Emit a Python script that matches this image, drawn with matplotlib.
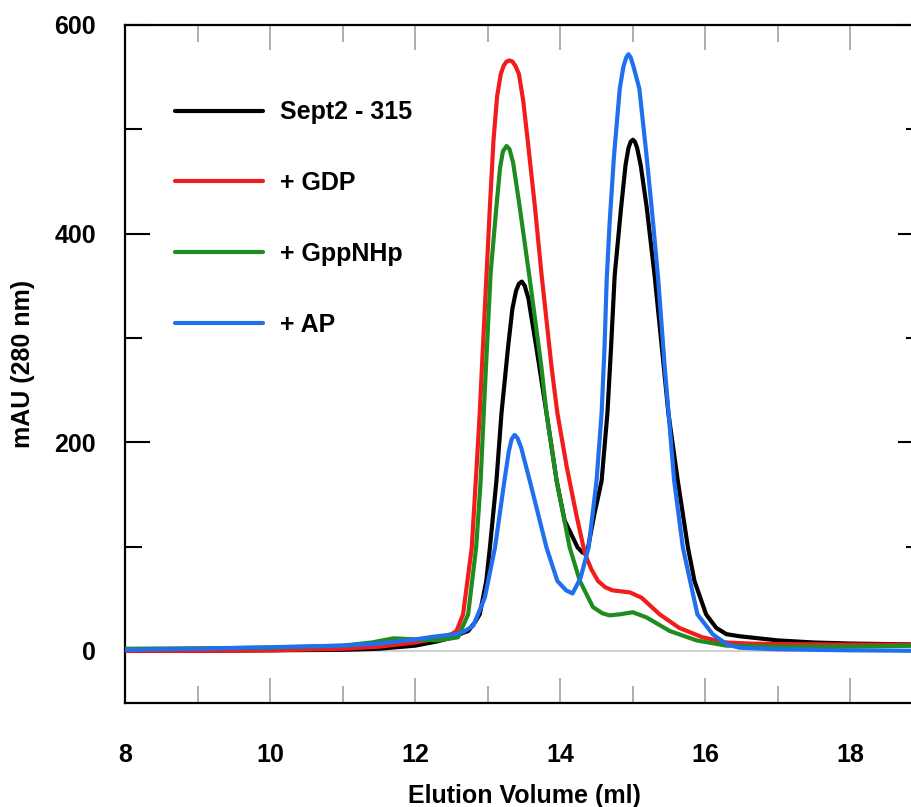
import matplotlib
matplotlib.use("Agg")
import matplotlib.pyplot as plt
from matplotlib.ticker import MultipleLocator

plt.rcParams['font.family'] = ['Liberation Sans', 'DejaVu Sans']
plt.rcParams['font.weight'] = 'bold'

# Elution traces (ml, mAU)
sept2_x = [8.0, 9.0, 10.0, 11.0, 11.5, 12.0, 12.3, 12.52, 12.65, 12.73, 12.82, 12.89, 12.98,
           13.03, 13.12, 13.19, 13.28, 13.34, 13.39, 13.43, 13.47, 13.51, 13.56, 13.67, 13.81,
           13.95, 14.06, 14.15, 14.24, 14.31, 14.38, 14.47, 14.57, 14.65, 14.70, 14.75, 14.84,
           14.90, 14.94, 14.97, 15.0, 15.03, 15.06, 15.11, 15.19, 15.30, 15.40, 15.49, 15.62,
           15.76, 15.85, 16.01, 16.15, 16.29, 16.47, 17.0, 17.5, 18.0, 19.0]
sept2_y = [0, 0, 0.5, 1, 2, 5, 9, 13, 17, 19, 27, 35, 67,
           99, 163, 228, 291, 328, 345, 352, 354, 350, 338, 291, 228,
           163, 125, 112, 99, 94, 98, 131, 163, 228, 291, 360, 426,
           466, 482, 488, 490, 488, 482, 465, 426, 360, 291, 228, 163,
           99, 67, 35, 22, 16, 14, 10, 8, 7, 6]

gdp_x = [8.0, 9.0, 10.0, 11.0, 11.5, 12.0, 12.3, 12.5, 12.57, 12.66, 12.78, 12.85, 12.89,
         12.92, 12.98, 13.03, 13.08, 13.13, 13.18, 13.22, 13.26, 13.30, 13.34, 13.38, 13.43,
         13.49, 13.55, 13.65, 13.74, 13.88, 13.96, 14.09, 14.22, 14.34, 14.43, 14.52, 14.62,
         14.72, 14.84, 14.96, 15.12, 15.37, 15.64, 15.96, 16.29, 16.6, 17.0, 18.0, 19.0]
gdp_y = [0, 0, 0.5, 2, 4, 8, 12, 16, 19, 35, 99, 180, 228,
         272, 356, 426, 490, 532, 553, 561, 565, 566, 565, 561, 553,
         527, 490, 426, 362, 272, 228, 176, 131, 93, 78, 67, 61,
         58, 57, 56, 51, 35, 22, 13, 8, 7, 6.5, 6, 6]

gppnhp_x = [8.0, 9.0, 10.0, 11.0, 11.4, 11.7, 12.0, 12.3, 12.5, 12.59, 12.73, 12.84, 12.90,
            12.96, 13.04, 13.12, 13.17, 13.21, 13.26, 13.30, 13.35, 13.44, 13.58, 13.74, 13.81,
            13.95, 14.13, 14.27, 14.45, 14.58, 14.68, 14.82, 15.0, 15.19, 15.51, 15.88, 16.29,
            17.0, 18.0, 19.0]
gppnhp_y = [2, 2.5, 3, 5, 8, 12, 11, 10, 12, 13, 35, 99, 160,
            250, 362, 426, 463, 479, 484, 481, 468, 426, 356, 272, 228,
            163, 99, 67, 42, 36, 34, 35, 37, 32, 19, 10, 5,
            4, 4, 5]

ap_x = [8.0, 9.0, 10.0, 11.0, 11.5, 12.0, 12.3, 12.57, 12.66, 12.80, 12.96, 13.10, 13.23,
        13.29, 13.33, 13.37, 13.41, 13.46, 13.58, 13.81, 13.96, 14.08, 14.17, 14.28, 14.39,
        14.50, 14.57, 14.61, 14.64, 14.68, 14.74, 14.82, 14.87, 14.91, 14.94, 14.97, 15.01,
        15.09, 15.19, 15.28, 15.35, 15.44, 15.57, 15.69, 15.89, 16.1, 16.3, 16.47, 17.0,
        18.0, 19.0]
ap_y = [1, 2, 3.5, 5, 7, 11, 14, 16, 18, 24, 51, 99, 163,
        191, 203, 207, 204, 195, 163, 99, 67, 58, 55, 70, 99,
        163, 228, 291, 356, 410, 474, 539, 560, 569, 572, 569, 560,
        539, 474, 410, 356, 272, 163, 99, 35, 16, 6, 3, 1.5,
        0.5, 0]

labels = ['Sept2 - 315', '+ GDP', '+ GppNHp', '+ AP']
colors = ['#000000', '#f21c1c', '#1e8c1e', '#1f6fef']

fig = plt.figure(figsize=(9.11, 8.07), dpi=100)
# axes run a little past the right edge of the figure, as in the original crop
ax = fig.add_axes([125 / 911, 104 / 807, 798 / 911, 678 / 807])

ax.axhline(0, color='#c8c8c8', lw=1.2, zorder=1)

series = [(sept2_x, sept2_y), (gdp_x, gdp_y), (gppnhp_x, gppnhp_y), (ap_x, ap_y)]
for (xs, ys), lab, col in zip(series, labels, colors):
    ax.plot(xs, ys, color=col, lw=3.0, label=lab, zorder=3,
            solid_capstyle='round', solid_joinstyle='round')

ax.set_xlim(8, 19)
ax.set_ylim(-50, 600)

ax.xaxis.set_major_locator(MultipleLocator(2))
ax.xaxis.set_minor_locator(MultipleLocator(1))
ax.yaxis.set_major_locator(MultipleLocator(200))
ax.yaxis.set_minor_locator(MultipleLocator(100))

ax.tick_params(axis='x', which='both', direction='in', top=True, bottom=True,
               colors='#a0a0a0', labelcolor='black', labelsize=18, pad=29)
ax.tick_params(axis='x', which='major', length=18, width=1.2)
ax.tick_params(axis='x', which='minor', length=12.5, width=1.2)
ax.tick_params(axis='y', which='both', direction='in', left=True, right=True,
               colors='black', labelsize=18, pad=21)
ax.tick_params(axis='y', which='major', length=18, width=1.5)
ax.tick_params(axis='y', which='minor', length=12.5, width=1.5)

for sp in ax.spines.values():
    sp.set_linewidth(1.6)

ax.set_xlabel('Elution Volume (ml)', fontsize=18, fontweight='bold', labelpad=12)
ax.set_ylabel('mAU (280 nm)', fontsize=18, fontweight='bold', labelpad=14)

leg = ax.legend(loc='upper left', bbox_to_anchor=(0.0627, 0.889), frameon=False,
                fontsize=18, handlelength=3.5, handletextpad=0.7, labelspacing=1.87,
                borderaxespad=0, borderpad=0)

fig.savefig('out.png', dpi=100)
